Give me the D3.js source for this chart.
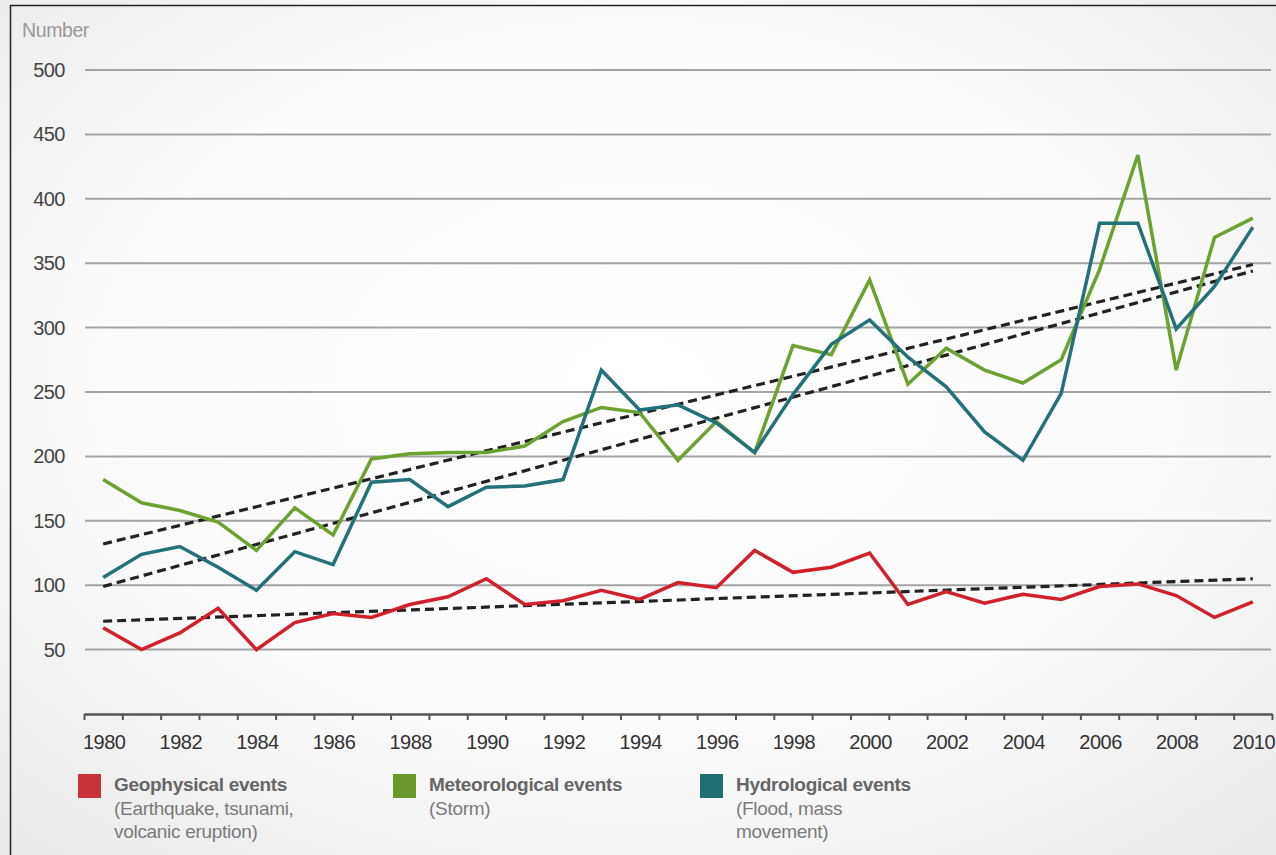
<!DOCTYPE html>
<html>
<head>
<meta charset="utf-8">
<script src="https://cdn.jsdelivr.net/npm/d3@7"></script>
<style>
html,body{margin:0;padding:0;background:#fff;}
svg{display:block;font-family:"Liberation Sans",Arial,Helvetica,sans-serif;}
</style>
</head>
<body>
<svg id="chart" width="1276" height="855"></svg>
<script>
const years = d3.range(1980, 2011);
const geophysical = [67,50,63,82,50,71,78,75,85,91,105,85,88,96,89,102,98,127,110,114,125,85,95,86,93,89,99,101,92,75,87];
const meteorological = [182,164,158,149,127,160,139,198,202,203,203,208,227,238,234,197,227,203,286,279,337,256,284,267,257,275,345,434,267,370,385];
const hydrological = [106,124,130,114,96,126,116,180,182,161,176,177,182,267,236,240,226,203,248,287,306,277,254,219,197,249,381,381,299,332,378];
const trendYears = [1980, 2010];
const trendGeo = [72, 105];
const trendMet = [132, 349];
const trendHyd = [99, 344];
const yTicks = [50,100,150,200,250,300,350,400,450,500];
const xLabelYears = d3.range(1980, 2011, 2);
const seriesNames = ["Geophysical events","Meteorological events","Hydrological events"];
const seriesSub = [["(Earthquake, tsunami,","volcanic eruption)"],["(Storm)"],["(Flood, mass","movement)"]];
const colors = ["#d0202a","#6ca22f","#237179"];
const legendColors = ["#c8323a","#6a9a2c","#1e6e72"];

const svg = d3.select("#chart");
const W = 1276, H = 855;

// background vignette
const defs = svg.append("defs");
const rg = defs.append("radialGradient").attr("id","bg").attr("cx","50%").attr("cy","45%").attr("r","75%");
rg.append("stop").attr("offset","0%").attr("stop-color","#ffffff");
rg.append("stop").attr("offset","55%").attr("stop-color","#fbfbfb");
rg.append("stop").attr("offset","100%").attr("stop-color","#e9e9e9");
svg.append("rect").attr("width",W).attr("height",H).attr("fill","url(#bg)");

// frame
svg.append("line").attr("x1",10.5).attr("x2",10.5).attr("y1",5).attr("y2",H).attr("stroke","#222").attr("stroke-width",1.5);
svg.append("line").attr("x1",10).attr("x2",W).attr("y1",5.5).attr("y2",5.5).attr("stroke","#222").attr("stroke-width",1.5);

const x = d3.scaleLinear().domain([1979.5, 2010.5]).range([84, 1272]);
const y = d3.scaleLinear().domain([0, 500]).range([714, 70]);

// gridlines
svg.append("g").selectAll("line").data(yTicks).join("line")
  .attr("x1",85).attr("x2",1271)
  .attr("y1",d=>y(d)).attr("y2",d=>y(d))
  .attr("stroke","#a3a3a3").attr("stroke-width",2);

// y labels
svg.append("g").selectAll("text").data(yTicks).join("text")
  .attr("x",65).attr("y",d=>y(d)+7)
  .attr("text-anchor","end")
  .attr("font-size",20).attr("letter-spacing",-0.5)
  .attr("fill","#444").text(d=>d);

svg.append("text").attr("x",22).attr("y",37).attr("font-size",19.5).attr("letter-spacing",-0.4)
  .attr("fill","#999").text("Number");

// x axis
const xAxis = d3.axisBottom(x)
  .tickValues(d3.range(1979.5, 2011, 1))
  .tickSize(6).tickSizeOuter(0).tickFormat("");
const gx = svg.append("g").attr("transform",`translate(0,${y(0)})`).call(xAxis);
gx.select(".domain").attr("stroke","#555").attr("stroke-width",2.5);
gx.selectAll(".tick line").attr("stroke","#555").attr("stroke-width",2);

svg.append("g").selectAll("text").data(xLabelYears).join("text")
  .attr("x",d=>x(d)+1).attr("y",749)
  .attr("text-anchor","middle")
  .attr("font-size",20).attr("letter-spacing",-0.5)
  .attr("fill","#333").text(d=>d);

// trend lines
const trends = [trendGeo, trendMet, trendHyd];
const line2 = d3.line().x(d=>x(d[0])).y(d=>y(d[1]));
trends.forEach(t=>{
  svg.append("path").attr("d", line2(trendYears.map((yr,i)=>[yr,t[i]])))
    .attr("fill","none").attr("stroke","#222").attr("stroke-width",3.2)
    .attr("stroke-dasharray","9,5");
});

// series lines
const series = [geophysical, meteorological, hydrological];
const line = d3.line().x((d,i)=>x(years[i])).y(d=>y(d));
series.forEach((s,i)=>{
  svg.append("path").attr("d", line(s))
    .attr("fill","none").attr("stroke",colors[i]).attr("stroke-width",3.5)
    .attr("stroke-linejoin","miter");
});

// legend
const legX = [78, 393, 700];
const lg = svg.append("g");
seriesNames.forEach((n,i)=>{
  lg.append("rect").attr("x",legX[i]).attr("y",774).attr("width",23).attr("height",24).attr("fill",legendColors[i]);
  lg.append("text").attr("x",legX[i]+36).attr("y",791)
    .attr("font-size",19).attr("font-weight","bold").attr("fill","#666").attr("letter-spacing",-0.3).text(n);
  seriesSub[i].forEach((s,j)=>{
    lg.append("text").attr("x",legX[i]+36).attr("y",815+j*23)
      .attr("font-size",19).attr("fill","#7a7a7a").attr("letter-spacing",-0.3).text(s);
  });
});
</script>
</body>
</html>
